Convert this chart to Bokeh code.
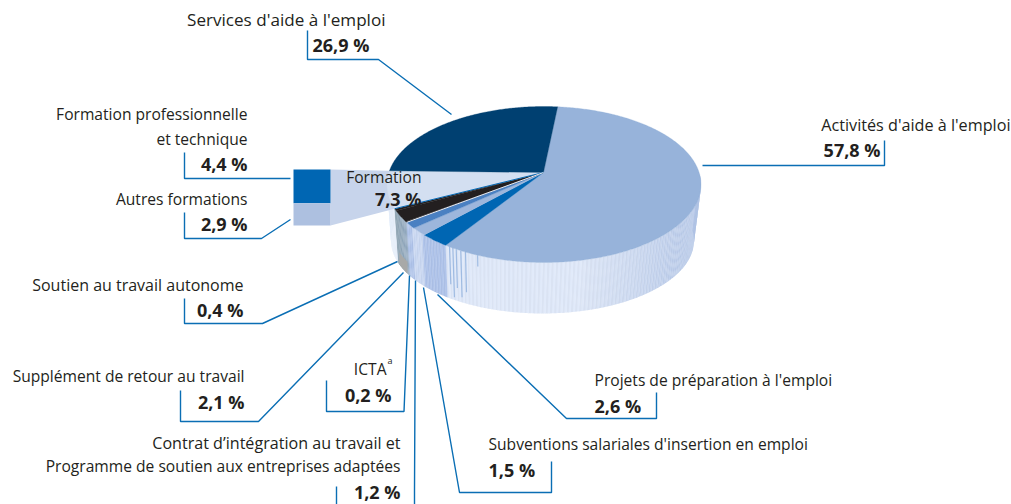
import numpy as np
from bokeh.plotting import figure
from bokeh.models import Range1d, ColumnDataSource
from bokeh.core.properties import value
from bokeh.embed import file_html
from bokeh.resources import INLINE

# ---- data (clockwise from the top of the pie)
slice_names = ["Activités d'aide à l'emploi", "Projets de préparation à l'emploi",
               "Subventions salariales d'insertion en emploi",
               "Contrat d’intégration au travail et Programme de soutien aux entreprises adaptées",
               "ICTA", "Supplément de retour au travail", "Soutien au travail autonome",
               "Formation", "Services d'aide à l'emploi"]
slice_values = [57.8, 2.6, 1.5, 1.2, 0.2, 2.1, 0.4, 7.3, 26.9]
slice_colors = ["#97b3da", "#0066b3", "#9db6dc", "#4a80c2", "#231f20", "#231f20", "#231f20", "#d3dff1", "#004071"]
formation_names = ["Formation professionnelle et technique", "Autres formations"]
formation_values = [4.4, 2.9]
formation_colors = ["#0066b3", "#adc0e0"]

FONT = "Open Sans"
W, H = 1011, 504
p = figure(width=W, height=H, x_range=Range1d(0, W), y_range=Range1d(H, 0),
           toolbar_location=None, output_backend="svg", min_border=0,
           outline_line_color=None, background_fill_color="white", border_fill_color="white")
p.axis.visible = False
p.grid.visible = False

# pie geometry on the page
APEX = (543.0, 172.0)
TOP = (543.5, 184.0, 157.0, 78.0)
BOT = (542.0, 240.0, 151.5, 73.0)
START = -85.0
WARP = -12.0

def angle(share):
    q = np.asarray(share) / 100.0
    return START + 360 * q + WARP * np.sin(2 * np.pi * q)

def rim(e, t):
    t = np.radians(t)
    return e[0] + e[2] * np.cos(t), e[1] + e[3] * np.sin(t)

cum = np.concatenate([[0], np.cumsum(slice_values)])
cum = cum / cum[-1] * 100
T_ACT, T_PROJ, T_SUB, T_CON = angle(cum[1]), angle(cum[2]), angle(cum[3]), angle(cum[4])
T_SOU, T_FOR = angle(cum[7]), angle(cum[8])

def mix(t, t0, t1, c0, c1):
    f = np.clip((t - t0) / (t1 - t0), 0, 1)
    return [c0[i] + (c1[i] - c0[i]) * f for i in range(3)]

def wall_rgb(t):
    if t < T_ACT:
        if t < 75:
            return mix(t, -8, 75, (156, 179, 219), (216, 225, 241))
        return (218, 227, 243)
    if t < T_CON:
        base = (170, 190, 228)
        if T_PROJ + 1 < t < T_SUB + 1:
            base = (196, 210, 236)
        return base
    if t < T_SOU:
        return mix(t, T_CON, T_SOU, (146, 168, 190), (124, 148, 164))
    return (224, 232, 245)

def hexa(c):
    return "#%02x%02x%02x" % tuple(int(round(min(255, v))) for v in c)

# side wall
xs, ys, cols = [], [], []
ts = np.arange(-8, 192, 0.8)
for i, (a, b) in enumerate(zip(ts[:-1], ts[1:])):
    x0, y0 = rim(TOP, a); x1, y1 = rim(TOP, b + 0.15)
    x2, y2 = rim(BOT, b + 0.15); x3, y3 = rim(BOT, a)
    xs.append([x0, x1, x2, x3]); ys.append([y0, y1, y2, y3])
    c = wall_rgb(a)
    if i % 2:
        c = [v + 7 for v in c]
    cols.append(hexa(c))
p.patches(xs, ys, fill_color=cols, line_color=None)

# grey foot of the dark wall section
t = np.linspace(T_CON + 2, T_SOU - 1, 8)
bx, by = rim(BOT, t)
p.patch(np.r_[bx, bx[::-1]], np.r_[by, by[::-1] - 12], fill_color="#a8a9a8", line_color=None)

# short blue streaks on the front of the wall: angle, share of the wall height
streak_angles = [127, 125.5, 124, 122, 120, 115]
streak_heights = [0.72, 0.95, 0.75, 0.9, 0.78, 0.22]
for a, h in zip(streak_angles, streak_heights):
    x0, y0 = rim(TOP, a)
    x1, y1 = rim(BOT, a)
    p.line([x0, x0 + (x1 - x0) * h], [y0, y0 + (y1 - y0) * h], line_color="#9fbbe2", line_width=1.2)

# stacked formation bar and its connection to the pie
BAR = (293.0, 330.0, 169.0, 225.0)
fx1, fy1 = rim(TOP, T_FOR)
fx0, fy0 = rim(TOP, T_SOU)
p.patch([BAR[1], fx1, fx0, BAR[1]], [BAR[2], fy1, fy0, BAR[3]], fill_color="#c7d4eb", line_color=None)

# top face
for i, (v, col) in enumerate(zip(slice_values, slice_colors)):
    t = np.linspace(angle(cum[i]), angle(cum[i + 1]), max(3, int(v * 6)))
    x, y = rim(TOP, t)
    p.patch(np.r_[APEX[0], x], np.r_[APEX[1], y], fill_color=col, line_color=col, line_width=0.3)

# fine edge lines beside the dark wedge
for k, c in ((7, "#0066b3"), (4, "#e8eef8")):
    x, y = rim(TOP, angle(cum[k]))
    p.line([APEX[0], x], [APEX[1], y], line_color=c, line_width=1)

tot = sum(formation_values)
top = BAR[2]
for v, c in zip(formation_values, formation_colors):
    h = (BAR[3] - BAR[2]) * v / tot
    p.quad(left=BAR[0], right=BAR[1], top=top, bottom=top + h, fill_color=c, line_color=None)
    top += h

# leader lines
leaders = [
    ([307, 307, 378, 451], [30, 59, 59, 114]),
    ([884, 884, 702], [140, 165, 165]),
    ([184, 184, 290], [152, 178, 178]),
    ([184, 184, 261, 290], [212, 238, 238, 219]),
    ([184, 184, 262, 397], [298, 323, 323, 261]),
    ([180, 180, 258, 403], [390, 421, 421, 272]),
    ([326, 326, 403.5, 409], [380, 411, 411, 275]),
    ([336, 336], [486, 504]),
    ([415, 414, 414], [280, 490, 504]),
    ([423, 459, 551, 551], [287, 492, 492, 461]),
    ([437, 566, 656, 656], [294, 418, 418, 392]),
]
for x, y in leaders:
    p.line(x, y, line_color="#0a6eb4", line_width=1.4)

# labels: (text, x, y, align, size)
REG, BLD = "15.6px", "18px"
labels = [
    ("Services d'aide à l'emploi", 385, 19, "right", "17.1px"),
    ("Activités d'aide à l'emploi", 1010, 124, "right", "16.2px"),
    ("Formation professionnelle", 247, 113, "right", REG), ("et technique", 247, 138, "right", REG),
    ("Autres formations", 247, 198, "right", REG),
    ("Soutien au travail autonome", 243, 284, "right", "16px"),
    ("Supplément de retour au travail", 244, 375, "right", REG),
    ("ICTA", 386, 368, "right", REG),
    ("Contrat d’intégration au travail et", 400, 442, "right", "16.1px"),
    ("Programme de soutien aux entreprises adaptées", 400, 465, "right", REG),
    ("Subventions salariales d'insertion en emploi", 488, 443, "left", REG),
    ("Projets de préparation à l'emploi", 594, 379, "left", REG),
    ("Formation", 421, 176, "right", REG),
]
bold_labels = [
    ("26,9 %", 312, 44, "left", BLD), ("57,8 %", 880, 149, "right", BLD),
    ("4,4 %", 247, 163, "right", BLD), ("2,9 %", 247, 223, "right", BLD),
    ("0,4 %", 243, 309, "right", BLD), ("2,1 %", 244, 401, "right", BLD),
    ("0,2 %", 391, 394, "right", BLD), ("1,2 %", 400, 491, "right", BLD),
    ("1,5 %", 488, 469, "left", BLD), ("2,6 %", 594, 405, "left", BLD),
    ("7,3 %", 421, 198, "right", BLD),
]
for rows, style in ((labels, "normal"), (bold_labels, "bold")):
    for al in ("left", "right"):
        sel = [r for r in rows if r[3] == al]
        src = ColumnDataSource(dict(x=[r[1] for r in sel], y=[r[2] for r in sel],
                                    t=[r[0] for r in sel], s=[r[4] for r in sel]))
        p.text("x", "y", "t", source=src, text_align=al, text_baseline="alphabetic",
               text_font=value(FONT), text_font_size="s",
               text_font_style=style, text_color="#231f20")
p.text([387], [360], ["a"], text_align="left", text_baseline="alphabetic",
       text_font=value(FONT), text_font_size="9px", text_color="#231f20")

open("out.html", "w").write(file_html(p, INLINE))
